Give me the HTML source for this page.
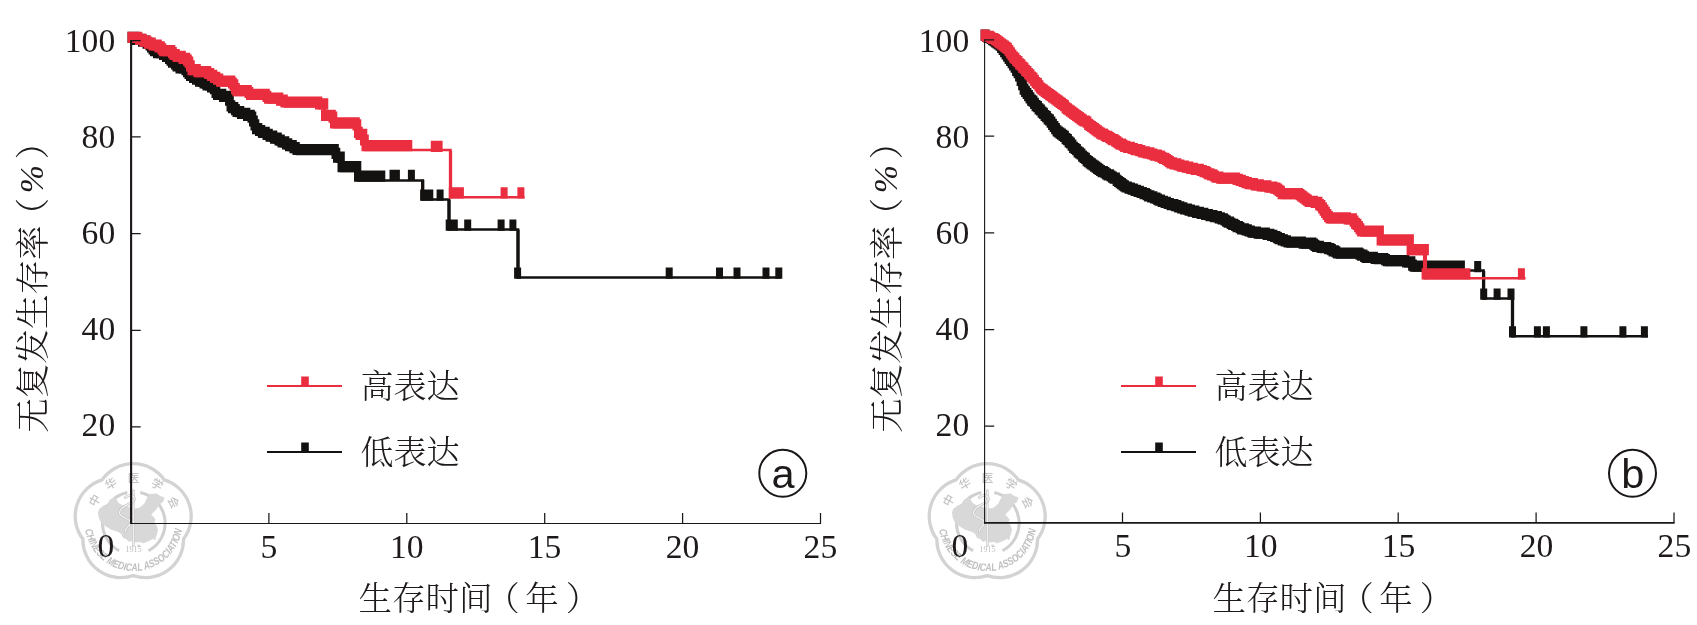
<!DOCTYPE html>
<html lang="zh-CN">
<head>
<meta charset="utf-8">
<title>无复发生存率 Kaplan-Meier 曲线</title>
<style>
html,body{margin:0;padding:0;background:#fff}
body{width:1697px;height:625px;overflow:hidden}
svg{display:block;will-change:transform;opacity:.999}
text{white-space:pre}
</style>
</head>
<body>

<svg width="1697" height="625" viewBox="0 0 1697 625">
<rect width="1697" height="625" fill="#fff"/>
<!-- watermarks -->
<g fill="none" stroke="#d3d3d3">
<path d="M102.09 479.88 A38.00 38.00 0 0 1 164.31 479.88 A38.00 38.00 0 0 1 183.54 539.06 A38.00 38.00 0 0 1 133.20 575.63 A38.00 38.00 0 0 1 82.86 539.06 A38.00 38.00 0 0 1 102.09 479.88Z" stroke-width="3.3" stroke-linejoin="round"/>
<path d="M119.11 550.74 A31.30 31.30 0 0 1 127.29 492.48 M140.31 492.48 A31.30 31.30 0 0 1 148.49 550.74" stroke-width="3.0" stroke="#d0d0d0"/>
</g>
<polygon points="98.6,512.5 99.8,509.3 103.7,506.1 108.2,504.2 110.7,499.7 115.2,498.4 117.8,502.9 121.6,505.5 126.7,506.8 134.4,509.3 140.2,508.0 144.6,504.2 147.2,499.1 149.8,494.6 156.2,494.0 160.0,496.5 163.8,497.8 162.6,501.6 158.7,504.2 156.2,508.7 152.3,512.5 150.4,515.1 152.3,516.4 154.9,519.6 153.6,522.8 156.2,526.0 157.4,529.8 156.2,534.9 152.3,538.8 147.2,541.3 143.4,542.6 139.5,541.3 135.7,542.0 133.1,540.0 129.3,541.3 126.7,538.8 123.5,537.5 121.6,533.6 117.8,531.1 111.4,529.2 106.2,526.0 101.1,521.5 99.2,517.0" fill="#d8d8d8" stroke="#d8d8d8" stroke-width="1.2" stroke-linejoin="round"/>
<ellipse cx="154.7" cy="538.0" rx="1.1" ry="2.0" fill="#d8d8d8" transform="rotate(20 154.7 538.0)"/>
<ellipse cx="138.7" cy="545.7" rx="1.6" ry="1.2" fill="#d8d8d8"/>
<g fill="none" stroke-linecap="round">
<path d="M133.4 490.5 V545.5" stroke="#cdcdcd" stroke-width="2.6"/>
<path d="M133.4 491.0 V545.0" stroke="#f3f3f3" stroke-width="1.0"/>
<path d="M125.4 497.5 c3 -3 8 -3 9 1 c1 5 -15 7 -15 14 c0 6 11 5 11 10 c0 4 -6 5 -5 9" stroke="#c8c8c8" stroke-width="2.8"/>
<path d="M125.4 497.5 c3 -3 8 -3 9 1 c1 5 -15 7 -15 14 c0 6 11 5 11 10 c0 4 -6 5 -5 9" stroke="#f5f5f5" stroke-width="1.1"/>
</g>
<g font-family="'Liberation Sans','Noto Sans CJK SC',sans-serif" font-size="11.6" font-weight="500" fill="#c4c4c4" text-anchor="middle">
<text transform="translate(94.59 500.38) rotate(-61.0)" y="4.2">中</text>
<text transform="translate(110.96 483.57) rotate(-30.5)" y="4.2">华</text>
<text transform="translate(133.60 477.40) rotate(0.0)" y="4.2">医</text>
<text transform="translate(157.23 484.18) rotate(32.0)" y="4.2">学</text>
<text transform="translate(173.69 502.45) rotate(64.0)" y="4.2">会</text>
</g>
<path id="wt133b" d="M85.20 529.67 A49.00 49.00 0 0 0 182.00 529.67" fill="none"/>
<text font-family="'Liberation Sans',sans-serif" font-weight="bold" font-style="italic" font-size="10.8" fill="#c0c0c0"><textPath href="#wt133b" textLength="138.5" lengthAdjust="spacingAndGlyphs">CHINESE MEDICAL ASSOCIATION</textPath></text>
<text x="133.6" y="552.1" font-family="'Liberation Serif',serif" font-size="7.8" fill="#bcbcbc" text-anchor="middle" letter-spacing="0.2">1915</text>
<g fill="none" stroke="#d3d3d3">
<path d="M956.09 479.88 A38.00 38.00 0 0 1 1018.31 479.88 A38.00 38.00 0 0 1 1037.54 539.06 A38.00 38.00 0 0 1 987.20 575.63 A38.00 38.00 0 0 1 936.86 539.06 A38.00 38.00 0 0 1 956.09 479.88Z" stroke-width="3.3" stroke-linejoin="round"/>
<path d="M973.11 550.74 A31.30 31.30 0 0 1 981.29 492.48 M994.31 492.48 A31.30 31.30 0 0 1 1002.49 550.74" stroke-width="3.0" stroke="#d0d0d0"/>
</g>
<polygon points="952.6,512.5 953.8,509.3 957.7,506.1 962.2,504.2 964.7,499.7 969.2,498.4 971.8,502.9 975.6,505.5 980.7,506.8 988.4,509.3 994.2,508.0 998.6,504.2 1001.2,499.1 1003.8,494.6 1010.2,494.0 1014.0,496.5 1017.8,497.8 1016.6,501.6 1012.7,504.2 1010.2,508.7 1006.3,512.5 1004.4,515.1 1006.3,516.4 1008.9,519.6 1007.6,522.8 1010.2,526.0 1011.4,529.8 1010.2,534.9 1006.3,538.8 1001.2,541.3 997.4,542.6 993.5,541.3 989.7,542.0 987.1,540.0 983.3,541.3 980.7,538.8 977.5,537.5 975.6,533.6 971.8,531.1 965.4,529.2 960.2,526.0 955.1,521.5 953.2,517.0" fill="#d8d8d8" stroke="#d8d8d8" stroke-width="1.2" stroke-linejoin="round"/>
<ellipse cx="1008.7" cy="538.0" rx="1.1" ry="2.0" fill="#d8d8d8" transform="rotate(20 1008.7 538.0)"/>
<ellipse cx="992.7" cy="545.7" rx="1.6" ry="1.2" fill="#d8d8d8"/>
<g fill="none" stroke-linecap="round">
<path d="M987.4 490.5 V545.5" stroke="#cdcdcd" stroke-width="2.6"/>
<path d="M987.4 491.0 V545.0" stroke="#f3f3f3" stroke-width="1.0"/>
<path d="M979.4 497.5 c3 -3 8 -3 9 1 c1 5 -15 7 -15 14 c0 6 11 5 11 10 c0 4 -6 5 -5 9" stroke="#c8c8c8" stroke-width="2.8"/>
<path d="M979.4 497.5 c3 -3 8 -3 9 1 c1 5 -15 7 -15 14 c0 6 11 5 11 10 c0 4 -6 5 -5 9" stroke="#f5f5f5" stroke-width="1.1"/>
</g>
<g font-family="'Liberation Sans','Noto Sans CJK SC',sans-serif" font-size="11.6" font-weight="500" fill="#c4c4c4" text-anchor="middle">
<text transform="translate(948.59 500.38) rotate(-61.0)" y="4.2">中</text>
<text transform="translate(964.96 483.57) rotate(-30.5)" y="4.2">华</text>
<text transform="translate(987.60 477.40) rotate(0.0)" y="4.2">医</text>
<text transform="translate(1011.23 484.18) rotate(32.0)" y="4.2">学</text>
<text transform="translate(1027.69 502.45) rotate(64.0)" y="4.2">会</text>
</g>
<path id="wt987b" d="M939.20 529.67 A49.00 49.00 0 0 0 1036.00 529.67" fill="none"/>
<text font-family="'Liberation Sans',sans-serif" font-weight="bold" font-style="italic" font-size="10.8" fill="#c0c0c0"><textPath href="#wt987b" textLength="138.5" lengthAdjust="spacingAndGlyphs">CHINESE MEDICAL ASSOCIATION</textPath></text>
<text x="987.6" y="552.1" font-family="'Liberation Serif',serif" font-size="7.8" fill="#bcbcbc" text-anchor="middle" letter-spacing="0.2">1915</text>
<!-- panel a -->
<path d="M422.7 179.7 V200.6 M449.0 199.6 V230.5 M518.0 229.5 V278.6" fill="none" stroke="#141210" stroke-width="3.3"/>
<path d="M131.0 41.8 H136.0 V43.7 H141.5 V45.6 H145.5 V47.5 H149.5 V49.4 H151.5 V51.3 H152.5 V53.2 H154.0 V55.1 H157.0 V57.0 H163.0 V58.9 H166.0 V60.8 H168.0 V62.7 H170.5 V64.6 H172.5 V66.5 H175.0 V68.4 H177.0 V70.3 H180.0 V72.2 H185.0 V74.1 H187.0 V76.0 H188.5 V77.9 H190.5 V79.8 H193.0 V81.7 H196.0 V83.6 H199.0 V85.5 H203.0 V87.4 H206.5 V89.3 H210.5 V91.2 H214.0 V93.1 H215.0 V95.0 H216.0 V96.9 H217.0 V98.8 H223.0 V100.7 H229.0 V102.6 H229.5 V104.5 H230.0 V106.4 H230.5 V108.3 H231.0 V110.2 H232.0 V112.1 H234.5 V114.0 H236.5 V115.9 H240.5 V117.8 H246.0 V119.7 H252.0 V121.6 H253.0 V123.5 H253.5 V125.4 H254.0 V127.3 H254.5 V129.2 H255.5 V131.1 H256.0 V133.0 H258.5 V134.9 H262.5 V136.8 H266.5 V138.7 H270.0 V140.6 H274.0 V142.5 H277.5 V144.4 H281.5 V146.3 H285.5 V148.2 H289.0 V150.1 H293.0 V152.0 H297.0 V153.9 H336.0 V159.6 H336.5 V161.5 H341.0 V167.2 H341.5 V171.0 H357.5 V176.7 H358.0 V180.5 H422.7 V199.6 H449 V229.5 H518 V277.6 H780.5" fill="none" stroke="#141210" stroke-width="2.5" stroke-linejoin="miter"/>
<path d="M127.5 31.8 h8.8 v11.2 h-8.8 zM129.0 31.8 h8.8 v11.2 h-8.8 zM130.5 31.8 h8.8 v11.2 h-8.8 zM132.0 33.7 h8.8 v11.2 h-8.8 zM133.5 33.7 h8.8 v11.2 h-8.8 zM135.0 33.7 h8.8 v11.2 h-8.8 zM136.5 33.7 h8.8 v11.2 h-8.8 zM138.0 35.6 h8.8 v11.2 h-8.8 zM139.5 35.6 h8.8 v11.2 h-8.8 zM141.0 35.6 h8.8 v11.2 h-8.8 zM142.5 37.5 h8.8 v11.2 h-8.8 zM144.0 37.5 h8.8 v11.2 h-8.8 zM145.5 39.4 h8.8 v11.2 h-8.8 zM147.0 41.3 h8.8 v11.2 h-8.8 zM148.5 43.2 h8.8 v11.2 h-8.8 zM150.0 45.1 h8.8 v11.2 h-8.8 zM151.5 45.1 h8.8 v11.2 h-8.8 zM153.0 47.0 h8.8 v11.2 h-8.8 zM154.5 47.0 h8.8 v11.2 h-8.8 zM156.0 47.0 h8.8 v11.2 h-8.8 zM157.5 47.0 h8.8 v11.2 h-8.8 zM159.0 48.9 h8.8 v11.2 h-8.8 zM160.5 48.9 h8.8 v11.2 h-8.8 zM162.0 50.8 h8.8 v11.2 h-8.8 zM163.5 50.8 h8.8 v11.2 h-8.8 zM165.0 52.7 h8.8 v11.2 h-8.8 zM166.5 54.6 h8.8 v11.2 h-8.8 zM168.0 56.5 h8.8 v11.2 h-8.8 zM169.5 56.5 h8.8 v11.2 h-8.8 zM171.0 58.4 h8.8 v11.2 h-8.8 zM172.5 60.3 h8.8 v11.2 h-8.8 zM174.0 60.3 h8.8 v11.2 h-8.8 zM175.5 62.2 h8.8 v11.2 h-8.8 zM177.0 62.2 h8.8 v11.2 h-8.8 zM178.5 62.2 h8.8 v11.2 h-8.8 zM180.0 62.2 h8.8 v11.2 h-8.8 zM181.5 64.1 h8.8 v11.2 h-8.8 zM183.0 66.0 h8.8 v11.2 h-8.8 zM184.5 67.9 h8.8 v11.2 h-8.8 zM186.0 69.8 h8.8 v11.2 h-8.8 zM187.5 69.8 h8.8 v11.2 h-8.8 zM189.0 71.7 h8.8 v11.2 h-8.8 zM190.5 71.7 h8.8 v11.2 h-8.8 zM192.0 73.6 h8.8 v11.2 h-8.8 zM193.5 73.6 h8.8 v11.2 h-8.8 zM195.0 75.5 h8.8 v11.2 h-8.8 zM196.5 75.5 h8.8 v11.2 h-8.8 zM198.0 75.5 h8.8 v11.2 h-8.8 zM199.5 77.4 h8.8 v11.2 h-8.8 zM201.0 77.4 h8.8 v11.2 h-8.8 zM202.5 79.3 h8.8 v11.2 h-8.8 zM204.0 79.3 h8.8 v11.2 h-8.8 zM205.5 79.3 h8.8 v11.2 h-8.8 zM207.0 81.2 h8.8 v11.2 h-8.8 zM208.5 81.2 h8.8 v11.2 h-8.8 zM210.0 83.1 h8.8 v11.2 h-8.8 zM211.5 86.9 h8.8 v11.2 h-8.8 zM213.0 88.8 h8.8 v11.2 h-8.8 zM214.5 88.8 h8.8 v11.2 h-8.8 zM216.0 88.8 h8.8 v11.2 h-8.8 zM217.5 88.8 h8.8 v11.2 h-8.8 zM219.0 90.7 h8.8 v11.2 h-8.8 zM220.5 90.7 h8.8 v11.2 h-8.8 zM222.0 90.7 h8.8 v11.2 h-8.8 zM223.5 90.7 h8.8 v11.2 h-8.8 zM225.0 94.5 h8.8 v11.2 h-8.8 zM226.5 100.2 h8.8 v11.2 h-8.8 zM228.0 102.1 h8.8 v11.2 h-8.8 zM229.5 102.1 h8.8 v11.2 h-8.8 zM231.0 104.0 h8.8 v11.2 h-8.8 zM232.5 105.9 h8.8 v11.2 h-8.8 zM234.0 105.9 h8.8 v11.2 h-8.8 zM235.5 105.9 h8.8 v11.2 h-8.8 zM237.0 107.8 h8.8 v11.2 h-8.8 zM238.5 107.8 h8.8 v11.2 h-8.8 zM240.0 107.8 h8.8 v11.2 h-8.8 zM241.5 107.8 h8.8 v11.2 h-8.8 zM243.0 109.7 h8.8 v11.2 h-8.8 zM244.5 109.7 h8.8 v11.2 h-8.8 zM246.0 109.7 h8.8 v11.2 h-8.8 zM247.5 111.6 h8.8 v11.2 h-8.8 zM249.0 115.4 h8.8 v11.2 h-8.8 zM250.5 119.2 h8.8 v11.2 h-8.8 zM252.0 123.0 h8.8 v11.2 h-8.8 zM253.5 123.0 h8.8 v11.2 h-8.8 zM255.0 124.9 h8.8 v11.2 h-8.8 zM256.5 124.9 h8.8 v11.2 h-8.8 zM258.0 126.8 h8.8 v11.2 h-8.8 zM259.5 126.8 h8.8 v11.2 h-8.8 zM261.0 126.8 h8.8 v11.2 h-8.8 zM262.5 128.7 h8.8 v11.2 h-8.8 zM264.0 128.7 h8.8 v11.2 h-8.8 zM265.5 130.6 h8.8 v11.2 h-8.8 zM267.0 130.6 h8.8 v11.2 h-8.8 zM268.5 130.6 h8.8 v11.2 h-8.8 zM270.0 132.5 h8.8 v11.2 h-8.8 zM271.5 132.5 h8.8 v11.2 h-8.8 zM273.0 132.5 h8.8 v11.2 h-8.8 zM274.5 134.4 h8.8 v11.2 h-8.8 zM276.0 134.4 h8.8 v11.2 h-8.8 zM277.5 136.3 h8.8 v11.2 h-8.8 zM279.0 136.3 h8.8 v11.2 h-8.8 zM280.5 136.3 h8.8 v11.2 h-8.8 zM282.0 138.2 h8.8 v11.2 h-8.8 zM283.5 138.2 h8.8 v11.2 h-8.8 zM285.0 140.1 h8.8 v11.2 h-8.8 zM286.5 140.1 h8.8 v11.2 h-8.8 zM288.0 140.1 h8.8 v11.2 h-8.8 zM289.5 142.0 h8.8 v11.2 h-8.8 zM291.0 142.0 h8.8 v11.2 h-8.8 zM292.5 143.9 h8.8 v11.2 h-8.8 zM294.0 143.9 h8.8 v11.2 h-8.8 zM295.5 143.9 h8.8 v11.2 h-8.8 zM297.0 143.9 h8.8 v11.2 h-8.8 zM298.5 143.9 h8.8 v11.2 h-8.8 zM300.0 143.9 h8.8 v11.2 h-8.8 zM301.5 143.9 h8.8 v11.2 h-8.8 zM303.0 143.9 h8.8 v11.2 h-8.8 zM304.5 143.9 h8.8 v11.2 h-8.8 zM306.0 143.9 h8.8 v11.2 h-8.8 zM307.5 143.9 h8.8 v11.2 h-8.8 zM309.0 143.9 h8.8 v11.2 h-8.8 zM310.5 143.9 h8.8 v11.2 h-8.8 zM312.0 143.9 h8.8 v11.2 h-8.8 zM313.5 143.9 h8.8 v11.2 h-8.8 zM315.0 143.9 h8.8 v11.2 h-8.8 zM316.5 143.9 h8.8 v11.2 h-8.8 zM318.0 143.9 h8.8 v11.2 h-8.8 zM319.5 143.9 h8.8 v11.2 h-8.8 zM321.0 143.9 h8.8 v11.2 h-8.8 zM322.5 143.9 h8.8 v11.2 h-8.8 zM324.0 143.9 h8.8 v11.2 h-8.8 zM325.5 143.9 h8.8 v11.2 h-8.8 zM327.0 143.9 h8.8 v11.2 h-8.8 zM328.5 143.9 h8.8 v11.2 h-8.8 zM330.0 143.9 h8.8 v11.2 h-8.8 zM331.5 147.7 h8.8 v11.2 h-8.8 zM333.0 151.5 h8.8 v11.2 h-8.8 zM334.5 151.5 h8.8 v11.2 h-8.8 zM336.0 151.5 h8.8 v11.2 h-8.8 zM337.5 161.0 h8.8 v11.2 h-8.8 zM339.0 161.0 h8.8 v11.2 h-8.8 zM340.5 161.0 h8.8 v11.2 h-8.8 zM342.0 161.0 h8.8 v11.2 h-8.8 zM343.5 161.0 h8.8 v11.2 h-8.8 zM345.0 161.0 h8.8 v11.2 h-8.8 zM346.5 161.0 h8.8 v11.2 h-8.8 zM348.0 161.0 h8.8 v11.2 h-8.8 zM349.5 161.0 h8.8 v11.2 h-8.8 zM351.0 161.0 h8.8 v11.2 h-8.8 zM352.5 161.0 h8.8 v11.2 h-8.8 zM354.0 170.5 h8.8 v11.2 h-8.8 zM355.5 170.5 h8.8 v11.2 h-8.8 zM357.0 170.5 h8.8 v11.2 h-8.8 zM358.5 170.5 h8.8 v11.2 h-8.8 zM360.0 170.5 h8.8 v11.2 h-8.8 zM361.5 170.5 h8.8 v11.2 h-8.8 zM363.0 170.5 h8.8 v11.2 h-8.8 zM364.5 170.5 h8.8 v11.2 h-8.8 zM366.0 170.5 h8.8 v11.2 h-8.8 zM367.5 170.5 h8.8 v11.2 h-8.8 zM369.0 170.5 h8.8 v11.2 h-8.8 zM370.5 170.5 h8.8 v11.2 h-8.8 zM372.0 170.5 h8.8 v11.2 h-8.8 zM373.5 170.5 h8.8 v11.2 h-8.8 zM375.0 170.5 h8.8 v11.2 h-8.8 zM376.5 170.5 h8.8 v11.2 h-8.8 zM389.5 169.7 h7.0 v11.2 h-7.0 zM392.9 169.7 h7.0 v11.2 h-7.0 zM407.9 169.7 h7.0 v11.2 h-7.0 zM420.1 189.6 h7.0 v11.2 h-7.0 zM426.3 189.6 h7.0 v11.2 h-7.0 zM436.6 189.6 h7.0 v11.2 h-7.0 zM445.7 219.5 h7.0 v11.2 h-7.0 zM450.8 219.5 h7.0 v11.2 h-7.0 zM464.2 219.5 h7.0 v11.2 h-7.0 zM497.6 219.5 h7.0 v11.2 h-7.0 zM509.4 219.5 h7.0 v11.2 h-7.0 zM514.1 267.6 h7.0 v11.2 h-7.0 zM665.7 267.6 h7.0 v11.2 h-7.0 zM716.0 267.6 h7.0 v11.2 h-7.0 zM733.5 267.6 h7.0 v11.2 h-7.0 zM762.5 267.6 h7.0 v11.2 h-7.0 zM775.3 267.6 h7.0 v11.2 h-7.0 z" fill="#141210"/>
<path d="M450.5 150.8 V198.3" fill="none" stroke="#ea2d3f" stroke-width="3.3"/>
<path d="M131.0 41.8 H138.5 V43.7 H143.5 V45.6 H148.0 V47.5 H152.5 V49.4 H159.0 V51.3 H161.5 V53.2 H163.5 V55.1 H171.5 V57.0 H174.0 V58.9 H177.0 V60.8 H181.5 V62.7 H186.5 V64.6 H189.0 V66.5 H189.5 V68.4 H190.0 V70.3 H191.0 V72.2 H191.5 V74.1 H196.5 V76.0 H207.5 V77.9 H210.5 V79.8 H214.0 V81.7 H217.0 V83.6 H220.5 V85.5 H232.5 V87.4 H233.5 V89.3 H234.0 V91.2 H235.0 V93.1 H236.0 V95.0 H248.0 V96.9 H250.0 V98.8 H266.5 V100.7 H268.5 V102.6 H280.0 V104.5 H285.0 V106.4 H319.5 V108.3 H324.5 V112.1 H325.0 V117.8 H325.5 V119.7 H332.0 V121.6 H333.5 V123.5 H334.0 V127.3 H356.0 V129.2 H357.5 V131.1 H358.0 V136.8 H360.0 V138.7 H364.5 V146.3 H365.0 V150.1 H450.5 V197.3 H524.5" fill="none" stroke="#ea2d3f" stroke-width="2.5"/>
<path d="M127.5 31.8 h8.8 v11.2 h-8.8 zM129.0 31.8 h8.8 v11.2 h-8.8 zM130.5 31.8 h8.8 v11.2 h-8.8 zM132.0 31.8 h8.8 v11.2 h-8.8 zM133.5 31.8 h8.8 v11.2 h-8.8 zM135.0 33.7 h8.8 v11.2 h-8.8 zM136.5 33.7 h8.8 v11.2 h-8.8 zM138.0 33.7 h8.8 v11.2 h-8.8 zM139.5 35.6 h8.8 v11.2 h-8.8 zM141.0 35.6 h8.8 v11.2 h-8.8 zM142.5 35.6 h8.8 v11.2 h-8.8 zM144.0 37.5 h8.8 v11.2 h-8.8 zM145.5 37.5 h8.8 v11.2 h-8.8 zM147.0 37.5 h8.8 v11.2 h-8.8 zM148.5 39.4 h8.8 v11.2 h-8.8 zM150.0 39.4 h8.8 v11.2 h-8.8 zM151.5 39.4 h8.8 v11.2 h-8.8 zM153.0 39.4 h8.8 v11.2 h-8.8 zM154.5 41.3 h8.8 v11.2 h-8.8 zM156.0 41.3 h8.8 v11.2 h-8.8 zM157.5 43.2 h8.8 v11.2 h-8.8 zM159.0 45.1 h8.8 v11.2 h-8.8 zM160.5 45.1 h8.8 v11.2 h-8.8 zM162.0 45.1 h8.8 v11.2 h-8.8 zM163.5 45.1 h8.8 v11.2 h-8.8 zM165.0 45.1 h8.8 v11.2 h-8.8 zM166.5 45.1 h8.8 v11.2 h-8.8 zM168.0 47.0 h8.8 v11.2 h-8.8 zM169.5 48.9 h8.8 v11.2 h-8.8 zM171.0 48.9 h8.8 v11.2 h-8.8 zM172.5 50.8 h8.8 v11.2 h-8.8 zM174.0 50.8 h8.8 v11.2 h-8.8 zM175.5 50.8 h8.8 v11.2 h-8.8 zM177.0 50.8 h8.8 v11.2 h-8.8 zM178.5 52.7 h8.8 v11.2 h-8.8 zM180.0 52.7 h8.8 v11.2 h-8.8 zM181.5 52.7 h8.8 v11.2 h-8.8 zM183.0 54.6 h8.8 v11.2 h-8.8 zM184.5 56.5 h8.8 v11.2 h-8.8 zM186.0 60.3 h8.8 v11.2 h-8.8 zM187.5 64.1 h8.8 v11.2 h-8.8 zM189.0 64.1 h8.8 v11.2 h-8.8 zM190.5 64.1 h8.8 v11.2 h-8.8 zM192.0 64.1 h8.8 v11.2 h-8.8 zM193.5 66.0 h8.8 v11.2 h-8.8 zM195.0 66.0 h8.8 v11.2 h-8.8 zM196.5 66.0 h8.8 v11.2 h-8.8 zM198.0 66.0 h8.8 v11.2 h-8.8 zM199.5 66.0 h8.8 v11.2 h-8.8 zM201.0 66.0 h8.8 v11.2 h-8.8 zM202.5 66.0 h8.8 v11.2 h-8.8 zM204.0 67.9 h8.8 v11.2 h-8.8 zM205.5 67.9 h8.8 v11.2 h-8.8 zM207.0 69.8 h8.8 v11.2 h-8.8 zM208.5 69.8 h8.8 v11.2 h-8.8 zM210.0 71.7 h8.8 v11.2 h-8.8 zM211.5 71.7 h8.8 v11.2 h-8.8 zM213.0 73.6 h8.8 v11.2 h-8.8 zM214.5 73.6 h8.8 v11.2 h-8.8 zM216.0 75.5 h8.8 v11.2 h-8.8 zM217.5 75.5 h8.8 v11.2 h-8.8 zM219.0 75.5 h8.8 v11.2 h-8.8 zM220.5 75.5 h8.8 v11.2 h-8.8 zM222.0 75.5 h8.8 v11.2 h-8.8 zM223.5 75.5 h8.8 v11.2 h-8.8 zM225.0 75.5 h8.8 v11.2 h-8.8 zM226.5 75.5 h8.8 v11.2 h-8.8 zM228.0 77.4 h8.8 v11.2 h-8.8 zM229.5 79.3 h8.8 v11.2 h-8.8 zM231.0 83.1 h8.8 v11.2 h-8.8 zM232.5 85.0 h8.8 v11.2 h-8.8 zM234.0 85.0 h8.8 v11.2 h-8.8 zM235.5 85.0 h8.8 v11.2 h-8.8 zM237.0 85.0 h8.8 v11.2 h-8.8 zM238.5 85.0 h8.8 v11.2 h-8.8 zM240.0 85.0 h8.8 v11.2 h-8.8 zM241.5 85.0 h8.8 v11.2 h-8.8 zM243.0 85.0 h8.8 v11.2 h-8.8 zM244.5 86.9 h8.8 v11.2 h-8.8 zM246.0 88.8 h8.8 v11.2 h-8.8 zM247.5 88.8 h8.8 v11.2 h-8.8 zM249.0 88.8 h8.8 v11.2 h-8.8 zM250.5 88.8 h8.8 v11.2 h-8.8 zM252.0 88.8 h8.8 v11.2 h-8.8 zM253.5 88.8 h8.8 v11.2 h-8.8 zM255.0 88.8 h8.8 v11.2 h-8.8 zM256.5 88.8 h8.8 v11.2 h-8.8 zM258.0 88.8 h8.8 v11.2 h-8.8 zM259.5 88.8 h8.8 v11.2 h-8.8 zM261.0 88.8 h8.8 v11.2 h-8.8 zM262.5 90.7 h8.8 v11.2 h-8.8 zM264.0 92.6 h8.8 v11.2 h-8.8 zM265.5 92.6 h8.8 v11.2 h-8.8 zM267.0 92.6 h8.8 v11.2 h-8.8 zM268.5 92.6 h8.8 v11.2 h-8.8 zM270.0 92.6 h8.8 v11.2 h-8.8 zM271.5 92.6 h8.8 v11.2 h-8.8 zM273.0 92.6 h8.8 v11.2 h-8.8 zM274.5 92.6 h8.8 v11.2 h-8.8 zM276.0 94.5 h8.8 v11.2 h-8.8 zM277.5 94.5 h8.8 v11.2 h-8.8 zM279.0 94.5 h8.8 v11.2 h-8.8 zM280.5 96.4 h8.8 v11.2 h-8.8 zM282.0 96.4 h8.8 v11.2 h-8.8 zM283.5 96.4 h8.8 v11.2 h-8.8 zM285.0 96.4 h8.8 v11.2 h-8.8 zM286.5 96.4 h8.8 v11.2 h-8.8 zM288.0 96.4 h8.8 v11.2 h-8.8 zM289.5 96.4 h8.8 v11.2 h-8.8 zM291.0 96.4 h8.8 v11.2 h-8.8 zM292.5 96.4 h8.8 v11.2 h-8.8 zM294.0 96.4 h8.8 v11.2 h-8.8 zM295.5 96.4 h8.8 v11.2 h-8.8 zM297.0 96.4 h8.8 v11.2 h-8.8 zM298.5 96.4 h8.8 v11.2 h-8.8 zM300.0 96.4 h8.8 v11.2 h-8.8 zM301.5 96.4 h8.8 v11.2 h-8.8 zM303.0 96.4 h8.8 v11.2 h-8.8 zM304.5 96.4 h8.8 v11.2 h-8.8 zM306.0 96.4 h8.8 v11.2 h-8.8 zM307.5 96.4 h8.8 v11.2 h-8.8 zM309.0 96.4 h8.8 v11.2 h-8.8 zM310.5 96.4 h8.8 v11.2 h-8.8 zM312.0 96.4 h8.8 v11.2 h-8.8 zM313.5 96.4 h8.8 v11.2 h-8.8 zM315.0 98.3 h8.8 v11.2 h-8.8 zM316.5 98.3 h8.8 v11.2 h-8.8 zM318.0 98.3 h8.8 v11.2 h-8.8 zM319.5 98.3 h8.8 v11.2 h-8.8 zM321.0 109.7 h8.8 v11.2 h-8.8 zM322.5 109.7 h8.8 v11.2 h-8.8 zM324.0 109.7 h8.8 v11.2 h-8.8 zM325.5 109.7 h8.8 v11.2 h-8.8 zM327.0 109.7 h8.8 v11.2 h-8.8 zM328.5 111.6 h8.8 v11.2 h-8.8 zM330.0 117.3 h8.8 v11.2 h-8.8 zM331.5 117.3 h8.8 v11.2 h-8.8 zM333.0 117.3 h8.8 v11.2 h-8.8 zM334.5 117.3 h8.8 v11.2 h-8.8 zM336.0 117.3 h8.8 v11.2 h-8.8 zM337.5 117.3 h8.8 v11.2 h-8.8 zM339.0 117.3 h8.8 v11.2 h-8.8 zM340.5 117.3 h8.8 v11.2 h-8.8 zM342.0 117.3 h8.8 v11.2 h-8.8 zM343.5 117.3 h8.8 v11.2 h-8.8 zM345.0 117.3 h8.8 v11.2 h-8.8 zM346.5 117.3 h8.8 v11.2 h-8.8 zM348.0 117.3 h8.8 v11.2 h-8.8 zM349.5 117.3 h8.8 v11.2 h-8.8 zM351.0 117.3 h8.8 v11.2 h-8.8 zM352.5 119.2 h8.8 v11.2 h-8.8 zM354.0 126.8 h8.8 v11.2 h-8.8 zM355.5 128.7 h8.8 v11.2 h-8.8 zM357.0 128.7 h8.8 v11.2 h-8.8 zM358.5 128.7 h8.8 v11.2 h-8.8 zM360.0 134.4 h8.8 v11.2 h-8.8 zM361.5 140.1 h8.8 v11.2 h-8.8 zM363.0 140.1 h8.8 v11.2 h-8.8 zM364.5 140.1 h8.8 v11.2 h-8.8 zM366.0 140.1 h8.8 v11.2 h-8.8 zM367.5 140.1 h8.8 v11.2 h-8.8 zM369.0 140.1 h8.8 v11.2 h-8.8 zM370.5 140.1 h8.8 v11.2 h-8.8 zM372.0 140.1 h8.8 v11.2 h-8.8 zM373.5 140.1 h8.8 v11.2 h-8.8 zM375.0 140.1 h8.8 v11.2 h-8.8 zM376.5 140.1 h8.8 v11.2 h-8.8 zM378.0 140.1 h8.8 v11.2 h-8.8 zM379.5 140.1 h8.8 v11.2 h-8.8 zM381.0 140.1 h8.8 v11.2 h-8.8 zM382.5 140.1 h8.8 v11.2 h-8.8 zM384.0 140.1 h8.8 v11.2 h-8.8 zM385.5 140.1 h8.8 v11.2 h-8.8 zM387.0 140.1 h8.8 v11.2 h-8.8 zM388.5 140.1 h8.8 v11.2 h-8.8 zM390.0 140.1 h8.8 v11.2 h-8.8 zM391.5 140.1 h8.8 v11.2 h-8.8 zM393.0 140.1 h8.8 v11.2 h-8.8 zM394.5 140.1 h8.8 v11.2 h-8.8 zM396.0 140.1 h8.8 v11.2 h-8.8 zM397.5 140.1 h8.8 v11.2 h-8.8 zM399.0 140.1 h8.8 v11.2 h-8.8 zM400.5 140.1 h8.8 v11.2 h-8.8 zM402.0 140.1 h8.8 v11.2 h-8.8 zM403.5 140.1 h8.8 v11.2 h-8.8 zM430.8 140.8 h7.0 v11.2 h-7.0 zM435.6 140.8 h7.0 v11.2 h-7.0 zM448.8 187.3 h7.0 v11.2 h-7.0 zM452.9 187.3 h7.0 v11.2 h-7.0 zM456.9 187.3 h7.0 v11.2 h-7.0 zM500.6 187.3 h7.0 v11.2 h-7.0 zM517.4 187.3 h7.0 v11.2 h-7.0 z" fill="#ea2d3f"/>
<g stroke="#1a1716" fill="none">
<path d="M131.1 40.0 V524.0" stroke-width="2.1"/>
<path d="M130.0 523.5 H821.0" stroke-width="1.1"/>
<path d="M131.1 40.6 h9.6 M131.1 136.9 h9.6 M131.1 233.6 h9.6 M131.1 330.4 h9.6 M131.1 426.8 h9.6 M268.9 523.5 v-10.4 M406.8 523.5 v-10.4 M544.7 523.5 v-10.4 M682.6 523.5 v-10.4 M820.5 523.5 v-10.4" stroke-width="1.25"/>
</g>
<g font-family="'Liberation Serif',serif" font-size="33.6" fill="#1d1a19">
<text x="115.2" y="52.4" text-anchor="end">100</text>
<text x="115.2" y="148.3" text-anchor="end">80</text>
<text x="115.2" y="244.0" text-anchor="end">60</text>
<text x="115.2" y="339.9" text-anchor="end">40</text>
<text x="115.2" y="436.0" text-anchor="end">20</text>
<text x="106.0" y="557.4" text-anchor="middle">0</text>
<text x="268.9" y="557.6" text-anchor="middle">5</text>
<text x="406.8" y="557.6" text-anchor="middle">10</text>
<text x="544.6" y="557.6" text-anchor="middle">15</text>
<text x="682.5" y="557.6" text-anchor="middle">20</text>
<text x="820.4" y="557.6" text-anchor="middle">25</text>
</g>
<text x="478.8" y="610.3" font-family="'Liberation Serif','Noto Serif CJK SC',serif" font-weight="300" font-size="33.5" fill="#1d1a19" text-anchor="middle">生存时间<tspan dx="-6.1">（</tspan><tspan dx="5.4">年</tspan><tspan dx="6.9">）</tspan></text>
<text transform="translate(44.8 0) rotate(-90)" font-family="'Liberation Serif','Noto Serif CJK SC',serif" font-weight="300" font-size="34.6" fill="#1d1a19"><tspan x="-432.8">无复发生存率</tspan><tspan x="-232.4">（</tspan><tspan x="-193.2" dy="-1.6" font-size="34" font-style="italic">%</tspan><tspan x="-159.4" dy="1.6">）</tspan></text>
<path d="M267.0 386.0 H342.0" stroke="#ea2d3f" stroke-width="2" fill="none"/>
<rect x="301.2" y="376.5" width="7.6" height="9.5" fill="#ea2d3f"/>
<text x="360.5" y="398.0" font-family="'Liberation Serif','Noto Serif CJK SC',serif" font-weight="300" font-size="33" fill="#1d1a19">高表达</text>
<path d="M267.0 452.0 H342.0" stroke="#141210" stroke-width="2" fill="none"/>
<rect x="301.2" y="442.5" width="7.6" height="9.5" fill="#141210"/>
<text x="360.5" y="464.0" font-family="'Liberation Serif','Noto Serif CJK SC',serif" font-weight="300" font-size="33" fill="#1d1a19">低表达</text>
<circle cx="782.8" cy="473.3" r="23.5" fill="none" stroke="#1a1716" stroke-width="2.0"/><text x="783.1" y="487.9" font-family="'Liberation Sans',sans-serif" font-size="41.5" fill="#1d1a19" text-anchor="middle">a</text>
<!-- panel b -->
<path d="M1483.6 271.0 V299.6 M1512.5 298.6 V337.3" fill="none" stroke="#141210" stroke-width="3.3"/>
<path d="M985.0 39.6 H985.5 V40.7 H988.0 V41.8 H990.5 V42.9 H992.5 V44.0 H994.0 V45.1 H995.5 V46.2 H996.5 V47.3 H998.0 V48.4 H999.5 V49.5 H1000.5 V50.6 H1001.5 V51.7 H1002.0 V52.8 H1003.0 V53.9 H1003.5 V55.0 H1004.5 V56.1 H1005.0 V57.2 H1006.0 V58.3 H1006.5 V59.4 H1007.5 V60.5 H1008.0 V61.6 H1009.0 V62.7 H1009.5 V63.8 H1010.5 V64.9 H1011.0 V66.0 H1012.0 V67.1 H1012.5 V68.2 H1013.5 V69.3 H1014.0 V70.4 H1015.0 V71.5 H1015.5 V72.6 H1016.0 V73.7 H1016.5 V74.8 H1017.0 V75.9 H1018.0 V77.0 H1018.5 V78.1 H1019.0 V79.2 H1019.5 V80.3 H1020.0 V81.4 H1020.5 V82.5 H1021.0 V84.7 H1021.5 V85.8 H1022.0 V88.0 H1022.5 V89.1 H1023.0 V90.2 H1023.5 V92.4 H1024.0 V93.5 H1025.0 V94.6 H1025.5 V95.7 H1026.5 V96.8 H1027.0 V97.9 H1028.0 V99.0 H1028.5 V100.1 H1029.0 V101.2 H1030.0 V102.3 H1030.5 V103.4 H1031.5 V104.5 H1032.5 V105.6 H1033.5 V106.7 H1034.5 V107.8 H1035.5 V108.9 H1036.0 V110.0 H1037.0 V111.1 H1038.0 V112.2 H1039.0 V113.3 H1040.0 V114.4 H1041.0 V115.5 H1042.0 V116.6 H1043.0 V117.7 H1044.0 V118.8 H1045.0 V119.9 H1046.0 V121.0 H1047.0 V122.1 H1048.0 V123.2 H1049.0 V124.3 H1050.0 V125.4 H1050.5 V126.5 H1051.5 V127.6 H1052.0 V128.7 H1053.0 V129.8 H1053.5 V130.9 H1054.5 V132.0 H1055.0 V133.1 H1056.0 V134.2 H1056.5 V135.3 H1058.0 V136.4 H1059.5 V137.5 H1060.5 V138.6 H1062.0 V139.7 H1063.5 V140.8 H1065.0 V141.9 H1066.0 V143.0 H1067.0 V144.1 H1068.0 V145.2 H1069.0 V146.3 H1070.0 V147.4 H1071.0 V148.5 H1072.0 V149.6 H1073.0 V150.7 H1073.5 V151.8 H1075.0 V152.9 H1076.0 V154.0 H1077.0 V155.1 H1078.0 V156.2 H1079.0 V157.3 H1080.5 V158.4 H1081.5 V159.5 H1082.5 V160.6 H1083.5 V161.7 H1084.5 V162.8 H1086.0 V163.9 H1087.0 V165.0 H1088.5 V166.1 H1090.0 V167.2 H1091.0 V168.3 H1092.5 V169.4 H1094.0 V170.5 H1095.5 V171.6 H1096.5 V172.7 H1098.0 V173.8 H1100.0 V174.9 H1102.0 V176.0 H1104.0 V177.1 H1106.0 V178.2 H1108.0 V179.3 H1110.0 V180.4 H1112.0 V181.5 H1114.0 V182.6 H1116.0 V183.7 H1117.0 V184.8 H1118.5 V185.9 H1120.0 V187.0 H1121.5 V188.1 H1123.0 V189.2 H1124.0 V190.3 H1125.5 V191.4 H1128.0 V192.5 H1131.0 V193.6 H1134.0 V194.7 H1137.0 V195.8 H1140.5 V196.9 H1143.5 V198.0 H1146.0 V199.1 H1148.5 V200.2 H1151.0 V201.3 H1153.5 V202.4 H1156.5 V203.5 H1159.0 V204.6 H1161.5 V205.7 H1164.5 V206.8 H1168.0 V207.9 H1171.0 V209.0 H1174.5 V210.1 H1178.0 V211.2 H1181.0 V212.3 H1184.5 V213.4 H1188.5 V214.5 H1192.0 V215.6 H1195.5 V216.7 H1200.5 V217.8 H1205.5 V218.9 H1210.0 V220.0 H1214.0 V221.1 H1218.0 V222.2 H1221.5 V223.3 H1224.0 V224.4 H1226.0 V225.5 H1228.0 V226.6 H1230.5 V227.7 H1232.5 V228.8 H1235.0 V229.9 H1237.0 V231.0 H1239.0 V232.1 H1241.5 V233.2 H1245.0 V234.3 H1248.0 V235.4 H1251.5 V236.5 H1257.0 V237.6 H1266.0 V238.7 H1271.0 V239.8 H1273.5 V240.9 H1276.5 V242.0 H1279.0 V243.1 H1282.0 V244.2 H1284.5 V245.3 H1287.5 V246.4 H1302.5 V247.5 H1312.5 V248.6 H1314.5 V249.7 H1316.5 V250.8 H1321.0 V251.9 H1327.5 V253.0 H1330.5 V254.1 H1333.0 V255.2 H1335.0 V256.3 H1337.0 V257.4 H1360.0 V258.5 H1361.5 V259.6 H1363.5 V260.7 H1365.0 V261.8 H1375.0 V262.9 H1385.0 V264.0 H1386.5 V265.1 H1405.5 V266.2 H1411.5 V267.3 H1412.0 V268.4 H1412.5 V269.5 H1413.0 V270.6 H1483.6 V298.6 H1512.5 V336.3 H1648" fill="none" stroke="#141210" stroke-width="2.5"/>
<path d="M980.6 29.6 h8.8 v11.2 h-8.8 zM982.1 30.7 h8.8 v11.2 h-8.8 zM983.6 31.8 h8.8 v11.2 h-8.8 zM985.1 31.8 h8.8 v11.2 h-8.8 zM986.6 32.9 h8.8 v11.2 h-8.8 zM988.1 34.0 h8.8 v11.2 h-8.8 zM989.6 35.1 h8.8 v11.2 h-8.8 zM991.1 36.2 h8.8 v11.2 h-8.8 zM992.6 37.3 h8.8 v11.2 h-8.8 zM994.1 38.4 h8.8 v11.2 h-8.8 zM995.6 39.5 h8.8 v11.2 h-8.8 zM997.1 41.7 h8.8 v11.2 h-8.8 zM998.6 43.9 h8.8 v11.2 h-8.8 zM1000.1 46.1 h8.8 v11.2 h-8.8 zM1001.6 48.3 h8.8 v11.2 h-8.8 zM1003.1 50.5 h8.8 v11.2 h-8.8 zM1004.6 52.7 h8.8 v11.2 h-8.8 zM1006.1 54.9 h8.8 v11.2 h-8.8 zM1007.6 57.1 h8.8 v11.2 h-8.8 zM1009.1 59.3 h8.8 v11.2 h-8.8 zM1010.6 61.5 h8.8 v11.2 h-8.8 zM1012.1 64.8 h8.8 v11.2 h-8.8 zM1013.6 67.0 h8.8 v11.2 h-8.8 zM1015.1 70.3 h8.8 v11.2 h-8.8 zM1016.6 74.7 h8.8 v11.2 h-8.8 zM1018.1 79.1 h8.8 v11.2 h-8.8 zM1019.6 83.5 h8.8 v11.2 h-8.8 zM1021.1 85.7 h8.8 v11.2 h-8.8 zM1022.6 87.9 h8.8 v11.2 h-8.8 zM1024.1 90.1 h8.8 v11.2 h-8.8 zM1025.6 92.3 h8.8 v11.2 h-8.8 zM1027.1 94.5 h8.8 v11.2 h-8.8 zM1028.6 95.6 h8.8 v11.2 h-8.8 zM1030.1 97.8 h8.8 v11.2 h-8.8 zM1031.6 100.0 h8.8 v11.2 h-8.8 zM1033.1 101.1 h8.8 v11.2 h-8.8 zM1034.6 103.3 h8.8 v11.2 h-8.8 zM1036.1 104.4 h8.8 v11.2 h-8.8 zM1037.6 106.6 h8.8 v11.2 h-8.8 zM1039.1 107.7 h8.8 v11.2 h-8.8 zM1040.6 109.9 h8.8 v11.2 h-8.8 zM1042.1 111.0 h8.8 v11.2 h-8.8 zM1043.6 113.2 h8.8 v11.2 h-8.8 zM1045.1 114.3 h8.8 v11.2 h-8.8 zM1046.6 116.5 h8.8 v11.2 h-8.8 zM1048.1 118.7 h8.8 v11.2 h-8.8 zM1049.6 120.9 h8.8 v11.2 h-8.8 zM1051.1 123.1 h8.8 v11.2 h-8.8 zM1052.6 125.3 h8.8 v11.2 h-8.8 zM1054.1 126.4 h8.8 v11.2 h-8.8 zM1055.6 127.5 h8.8 v11.2 h-8.8 zM1057.1 128.6 h8.8 v11.2 h-8.8 zM1058.6 129.7 h8.8 v11.2 h-8.8 zM1060.1 130.8 h8.8 v11.2 h-8.8 zM1061.6 133.0 h8.8 v11.2 h-8.8 zM1063.1 134.1 h8.8 v11.2 h-8.8 zM1064.6 136.3 h8.8 v11.2 h-8.8 zM1066.1 137.4 h8.8 v11.2 h-8.8 zM1067.6 139.6 h8.8 v11.2 h-8.8 zM1069.1 141.8 h8.8 v11.2 h-8.8 zM1070.6 142.9 h8.8 v11.2 h-8.8 zM1072.1 144.0 h8.8 v11.2 h-8.8 zM1073.6 146.2 h8.8 v11.2 h-8.8 zM1075.1 147.3 h8.8 v11.2 h-8.8 zM1076.6 148.4 h8.8 v11.2 h-8.8 zM1078.1 150.6 h8.8 v11.2 h-8.8 zM1079.6 151.7 h8.8 v11.2 h-8.8 zM1081.1 152.8 h8.8 v11.2 h-8.8 zM1082.6 155.0 h8.8 v11.2 h-8.8 zM1084.1 156.1 h8.8 v11.2 h-8.8 zM1085.6 157.2 h8.8 v11.2 h-8.8 zM1087.1 158.3 h8.8 v11.2 h-8.8 zM1088.6 159.4 h8.8 v11.2 h-8.8 zM1090.1 160.5 h8.8 v11.2 h-8.8 zM1091.6 161.6 h8.8 v11.2 h-8.8 zM1093.1 162.7 h8.8 v11.2 h-8.8 zM1094.6 163.8 h8.8 v11.2 h-8.8 zM1096.1 164.9 h8.8 v11.2 h-8.8 zM1097.6 166.0 h8.8 v11.2 h-8.8 zM1099.1 166.0 h8.8 v11.2 h-8.8 zM1100.6 167.1 h8.8 v11.2 h-8.8 zM1102.1 168.2 h8.8 v11.2 h-8.8 zM1103.6 169.3 h8.8 v11.2 h-8.8 zM1105.1 169.3 h8.8 v11.2 h-8.8 zM1106.6 170.4 h8.8 v11.2 h-8.8 zM1108.1 171.5 h8.8 v11.2 h-8.8 zM1109.6 172.6 h8.8 v11.2 h-8.8 zM1111.1 172.6 h8.8 v11.2 h-8.8 zM1112.6 174.8 h8.8 v11.2 h-8.8 zM1114.1 175.9 h8.8 v11.2 h-8.8 zM1115.6 177.0 h8.8 v11.2 h-8.8 zM1117.1 178.1 h8.8 v11.2 h-8.8 zM1118.6 179.2 h8.8 v11.2 h-8.8 zM1120.1 180.3 h8.8 v11.2 h-8.8 zM1121.6 181.4 h8.8 v11.2 h-8.8 zM1123.1 181.4 h8.8 v11.2 h-8.8 zM1124.6 182.5 h8.8 v11.2 h-8.8 zM1126.1 182.5 h8.8 v11.2 h-8.8 zM1127.6 183.6 h8.8 v11.2 h-8.8 zM1129.1 183.6 h8.8 v11.2 h-8.8 zM1130.6 184.7 h8.8 v11.2 h-8.8 zM1132.1 184.7 h8.8 v11.2 h-8.8 zM1133.6 185.8 h8.8 v11.2 h-8.8 zM1135.1 185.8 h8.8 v11.2 h-8.8 zM1136.6 186.9 h8.8 v11.2 h-8.8 zM1138.1 186.9 h8.8 v11.2 h-8.8 zM1139.6 188.0 h8.8 v11.2 h-8.8 zM1141.1 188.0 h8.8 v11.2 h-8.8 zM1142.6 189.1 h8.8 v11.2 h-8.8 zM1144.1 190.2 h8.8 v11.2 h-8.8 zM1145.6 190.2 h8.8 v11.2 h-8.8 zM1147.1 191.3 h8.8 v11.2 h-8.8 zM1148.6 191.3 h8.8 v11.2 h-8.8 zM1150.1 192.4 h8.8 v11.2 h-8.8 zM1151.6 192.4 h8.8 v11.2 h-8.8 zM1153.1 193.5 h8.8 v11.2 h-8.8 zM1154.6 194.6 h8.8 v11.2 h-8.8 zM1156.1 194.6 h8.8 v11.2 h-8.8 zM1157.6 195.7 h8.8 v11.2 h-8.8 zM1159.1 195.7 h8.8 v11.2 h-8.8 zM1160.6 196.8 h8.8 v11.2 h-8.8 zM1162.1 196.8 h8.8 v11.2 h-8.8 zM1163.6 197.9 h8.8 v11.2 h-8.8 zM1165.1 197.9 h8.8 v11.2 h-8.8 zM1166.6 199.0 h8.8 v11.2 h-8.8 zM1168.1 199.0 h8.8 v11.2 h-8.8 zM1169.6 199.0 h8.8 v11.2 h-8.8 zM1171.1 200.1 h8.8 v11.2 h-8.8 zM1172.6 200.1 h8.8 v11.2 h-8.8 zM1174.1 201.2 h8.8 v11.2 h-8.8 zM1175.6 201.2 h8.8 v11.2 h-8.8 zM1177.1 202.3 h8.8 v11.2 h-8.8 zM1178.6 202.3 h8.8 v11.2 h-8.8 zM1180.1 203.4 h8.8 v11.2 h-8.8 zM1181.6 203.4 h8.8 v11.2 h-8.8 zM1183.1 203.4 h8.8 v11.2 h-8.8 zM1184.6 204.5 h8.8 v11.2 h-8.8 zM1186.1 204.5 h8.8 v11.2 h-8.8 zM1187.6 205.6 h8.8 v11.2 h-8.8 zM1189.1 205.6 h8.8 v11.2 h-8.8 zM1190.6 205.6 h8.8 v11.2 h-8.8 zM1192.1 206.7 h8.8 v11.2 h-8.8 zM1193.6 206.7 h8.8 v11.2 h-8.8 zM1195.1 206.7 h8.8 v11.2 h-8.8 zM1196.6 207.8 h8.8 v11.2 h-8.8 zM1198.1 207.8 h8.8 v11.2 h-8.8 zM1199.6 207.8 h8.8 v11.2 h-8.8 zM1201.1 208.9 h8.8 v11.2 h-8.8 zM1202.6 208.9 h8.8 v11.2 h-8.8 zM1204.1 208.9 h8.8 v11.2 h-8.8 zM1205.6 210.0 h8.8 v11.2 h-8.8 zM1207.1 210.0 h8.8 v11.2 h-8.8 zM1208.6 210.0 h8.8 v11.2 h-8.8 zM1210.1 211.1 h8.8 v11.2 h-8.8 zM1211.6 211.1 h8.8 v11.2 h-8.8 zM1213.1 211.1 h8.8 v11.2 h-8.8 zM1214.6 212.2 h8.8 v11.2 h-8.8 zM1216.1 212.2 h8.8 v11.2 h-8.8 zM1217.6 213.3 h8.8 v11.2 h-8.8 zM1219.1 213.3 h8.8 v11.2 h-8.8 zM1220.6 214.4 h8.8 v11.2 h-8.8 zM1222.1 215.5 h8.8 v11.2 h-8.8 zM1223.6 216.6 h8.8 v11.2 h-8.8 zM1225.1 216.6 h8.8 v11.2 h-8.8 zM1226.6 217.7 h8.8 v11.2 h-8.8 zM1228.1 218.8 h8.8 v11.2 h-8.8 zM1229.6 218.8 h8.8 v11.2 h-8.8 zM1231.1 219.9 h8.8 v11.2 h-8.8 zM1232.6 221.0 h8.8 v11.2 h-8.8 zM1234.1 221.0 h8.8 v11.2 h-8.8 zM1235.6 222.1 h8.8 v11.2 h-8.8 zM1237.1 223.2 h8.8 v11.2 h-8.8 zM1238.6 223.2 h8.8 v11.2 h-8.8 zM1240.1 223.2 h8.8 v11.2 h-8.8 zM1241.6 224.3 h8.8 v11.2 h-8.8 zM1243.1 224.3 h8.8 v11.2 h-8.8 zM1244.6 225.4 h8.8 v11.2 h-8.8 zM1246.1 225.4 h8.8 v11.2 h-8.8 zM1247.6 226.5 h8.8 v11.2 h-8.8 zM1249.1 226.5 h8.8 v11.2 h-8.8 zM1250.6 226.5 h8.8 v11.2 h-8.8 zM1252.1 226.5 h8.8 v11.2 h-8.8 zM1253.6 227.6 h8.8 v11.2 h-8.8 zM1255.1 227.6 h8.8 v11.2 h-8.8 zM1256.6 227.6 h8.8 v11.2 h-8.8 zM1258.1 227.6 h8.8 v11.2 h-8.8 zM1259.6 227.6 h8.8 v11.2 h-8.8 zM1261.1 227.6 h8.8 v11.2 h-8.8 zM1262.6 228.7 h8.8 v11.2 h-8.8 zM1264.1 228.7 h8.8 v11.2 h-8.8 zM1265.6 228.7 h8.8 v11.2 h-8.8 zM1267.1 229.8 h8.8 v11.2 h-8.8 zM1268.6 229.8 h8.8 v11.2 h-8.8 zM1270.1 230.9 h8.8 v11.2 h-8.8 zM1271.6 230.9 h8.8 v11.2 h-8.8 zM1273.1 232.0 h8.8 v11.2 h-8.8 zM1274.6 233.1 h8.8 v11.2 h-8.8 zM1276.1 233.1 h8.8 v11.2 h-8.8 zM1277.6 234.2 h8.8 v11.2 h-8.8 zM1279.1 234.2 h8.8 v11.2 h-8.8 zM1280.6 235.3 h8.8 v11.2 h-8.8 zM1282.1 235.3 h8.8 v11.2 h-8.8 zM1283.6 236.4 h8.8 v11.2 h-8.8 zM1285.1 236.4 h8.8 v11.2 h-8.8 zM1286.6 236.4 h8.8 v11.2 h-8.8 zM1288.1 236.4 h8.8 v11.2 h-8.8 zM1289.6 236.4 h8.8 v11.2 h-8.8 zM1291.1 236.4 h8.8 v11.2 h-8.8 zM1292.6 236.4 h8.8 v11.2 h-8.8 zM1294.1 236.4 h8.8 v11.2 h-8.8 zM1295.6 236.4 h8.8 v11.2 h-8.8 zM1297.1 236.4 h8.8 v11.2 h-8.8 zM1298.6 237.5 h8.8 v11.2 h-8.8 zM1300.1 237.5 h8.8 v11.2 h-8.8 zM1301.6 237.5 h8.8 v11.2 h-8.8 zM1303.1 237.5 h8.8 v11.2 h-8.8 zM1304.6 237.5 h8.8 v11.2 h-8.8 zM1306.1 237.5 h8.8 v11.2 h-8.8 zM1307.6 237.5 h8.8 v11.2 h-8.8 zM1309.1 238.6 h8.8 v11.2 h-8.8 zM1310.6 239.7 h8.8 v11.2 h-8.8 zM1312.1 240.8 h8.8 v11.2 h-8.8 zM1313.6 240.8 h8.8 v11.2 h-8.8 zM1315.1 240.8 h8.8 v11.2 h-8.8 zM1316.6 241.9 h8.8 v11.2 h-8.8 zM1318.1 241.9 h8.8 v11.2 h-8.8 zM1319.6 241.9 h8.8 v11.2 h-8.8 zM1321.1 241.9 h8.8 v11.2 h-8.8 zM1322.6 241.9 h8.8 v11.2 h-8.8 zM1324.1 243.0 h8.8 v11.2 h-8.8 zM1325.6 243.0 h8.8 v11.2 h-8.8 zM1327.1 244.1 h8.8 v11.2 h-8.8 zM1328.6 245.2 h8.8 v11.2 h-8.8 zM1330.1 245.2 h8.8 v11.2 h-8.8 zM1331.6 246.3 h8.8 v11.2 h-8.8 zM1333.1 247.4 h8.8 v11.2 h-8.8 zM1334.6 247.4 h8.8 v11.2 h-8.8 zM1336.1 247.4 h8.8 v11.2 h-8.8 zM1337.6 247.4 h8.8 v11.2 h-8.8 zM1339.1 247.4 h8.8 v11.2 h-8.8 zM1340.6 247.4 h8.8 v11.2 h-8.8 zM1342.1 247.4 h8.8 v11.2 h-8.8 zM1343.6 247.4 h8.8 v11.2 h-8.8 zM1345.1 247.4 h8.8 v11.2 h-8.8 zM1346.6 247.4 h8.8 v11.2 h-8.8 zM1348.1 247.4 h8.8 v11.2 h-8.8 zM1349.6 247.4 h8.8 v11.2 h-8.8 zM1351.1 247.4 h8.8 v11.2 h-8.8 zM1352.6 247.4 h8.8 v11.2 h-8.8 zM1354.1 247.4 h8.8 v11.2 h-8.8 zM1355.6 248.5 h8.8 v11.2 h-8.8 zM1357.1 249.6 h8.8 v11.2 h-8.8 zM1358.6 249.6 h8.8 v11.2 h-8.8 zM1360.1 250.7 h8.8 v11.2 h-8.8 zM1361.6 251.8 h8.8 v11.2 h-8.8 zM1363.1 251.8 h8.8 v11.2 h-8.8 zM1364.6 251.8 h8.8 v11.2 h-8.8 zM1366.1 251.8 h8.8 v11.2 h-8.8 zM1367.6 251.8 h8.8 v11.2 h-8.8 zM1369.1 251.8 h8.8 v11.2 h-8.8 zM1370.6 252.9 h8.8 v11.2 h-8.8 zM1372.1 252.9 h8.8 v11.2 h-8.8 zM1373.6 252.9 h8.8 v11.2 h-8.8 zM1375.1 252.9 h8.8 v11.2 h-8.8 zM1376.6 252.9 h8.8 v11.2 h-8.8 zM1378.1 252.9 h8.8 v11.2 h-8.8 zM1379.6 252.9 h8.8 v11.2 h-8.8 zM1381.1 254.0 h8.8 v11.2 h-8.8 zM1382.6 255.1 h8.8 v11.2 h-8.8 zM1384.1 255.1 h8.8 v11.2 h-8.8 zM1385.6 255.1 h8.8 v11.2 h-8.8 zM1387.1 255.1 h8.8 v11.2 h-8.8 zM1388.6 255.1 h8.8 v11.2 h-8.8 zM1390.1 255.1 h8.8 v11.2 h-8.8 zM1391.6 255.1 h8.8 v11.2 h-8.8 zM1393.1 255.1 h8.8 v11.2 h-8.8 zM1394.6 255.1 h8.8 v11.2 h-8.8 zM1396.1 255.1 h8.8 v11.2 h-8.8 zM1397.6 255.1 h8.8 v11.2 h-8.8 zM1399.1 255.1 h8.8 v11.2 h-8.8 zM1400.6 255.1 h8.8 v11.2 h-8.8 zM1402.1 256.2 h8.8 v11.2 h-8.8 zM1403.6 256.2 h8.8 v11.2 h-8.8 zM1405.1 256.2 h8.8 v11.2 h-8.8 zM1406.6 256.2 h8.8 v11.2 h-8.8 zM1408.1 259.5 h8.8 v11.2 h-8.8 zM1409.6 260.6 h8.8 v11.2 h-8.8 zM1411.1 260.6 h8.8 v11.2 h-8.8 zM1412.6 260.6 h8.8 v11.2 h-8.8 zM1414.1 260.6 h8.8 v11.2 h-8.8 zM1415.6 260.6 h8.8 v11.2 h-8.8 zM1417.1 260.6 h8.8 v11.2 h-8.8 zM1418.6 260.6 h8.8 v11.2 h-8.8 zM1420.1 260.6 h8.8 v11.2 h-8.8 zM1421.6 260.6 h8.8 v11.2 h-8.8 zM1423.1 260.6 h8.8 v11.2 h-8.8 zM1424.6 260.6 h8.8 v11.2 h-8.8 zM1426.1 260.6 h8.8 v11.2 h-8.8 zM1427.6 260.6 h8.8 v11.2 h-8.8 zM1429.1 260.6 h8.8 v11.2 h-8.8 zM1430.6 260.6 h8.8 v11.2 h-8.8 zM1432.1 260.6 h8.8 v11.2 h-8.8 zM1433.6 260.6 h8.8 v11.2 h-8.8 zM1435.1 260.6 h8.8 v11.2 h-8.8 zM1436.6 260.6 h8.8 v11.2 h-8.8 zM1438.1 260.6 h8.8 v11.2 h-8.8 zM1439.6 260.6 h8.8 v11.2 h-8.8 zM1441.1 260.6 h8.8 v11.2 h-8.8 zM1442.6 260.6 h8.8 v11.2 h-8.8 zM1444.1 260.6 h8.8 v11.2 h-8.8 zM1445.6 260.6 h8.8 v11.2 h-8.8 zM1447.1 260.6 h8.8 v11.2 h-8.8 zM1448.6 260.6 h8.8 v11.2 h-8.8 zM1450.1 260.6 h8.8 v11.2 h-8.8 zM1451.6 260.6 h8.8 v11.2 h-8.8 zM1453.1 260.6 h8.8 v11.2 h-8.8 zM1454.6 260.6 h8.8 v11.2 h-8.8 zM1456.1 260.6 h8.8 v11.2 h-8.8 zM1474.2 261.0 h7.0 v11.2 h-7.0 zM1480.2 288.6 h7.0 v11.2 h-7.0 zM1493.6 288.6 h7.0 v11.2 h-7.0 zM1507.5 288.6 h7.0 v11.2 h-7.0 zM1509.0 326.3 h7.0 v11.2 h-7.0 zM1533.9 326.3 h7.0 v11.2 h-7.0 zM1542.9 326.3 h7.0 v11.2 h-7.0 zM1580.4 326.3 h7.0 v11.2 h-7.0 zM1619.4 326.3 h7.0 v11.2 h-7.0 zM1640.9 326.3 h7.0 v11.2 h-7.0 z" fill="#141210"/>
<path d="M1425.0 254.4 V279.2" fill="none" stroke="#ea2d3f" stroke-width="4.1"/>
<path d="M985.0 39.6 H986.5 V40.7 H991.0 V41.8 H992.5 V42.9 H994.5 V44.0 H996.0 V45.1 H998.0 V46.2 H999.5 V47.3 H1001.0 V48.4 H1003.0 V49.5 H1004.5 V50.6 H1006.0 V51.7 H1007.0 V52.8 H1008.0 V53.9 H1008.5 V55.0 H1009.5 V56.1 H1010.5 V57.2 H1011.0 V58.3 H1012.0 V59.4 H1013.0 V60.5 H1013.5 V61.6 H1014.5 V62.7 H1015.5 V63.8 H1016.5 V64.9 H1017.5 V66.0 H1018.5 V67.1 H1019.5 V68.2 H1020.5 V69.3 H1021.5 V70.4 H1022.5 V71.5 H1023.5 V72.6 H1024.5 V73.7 H1025.5 V74.8 H1026.5 V75.9 H1027.5 V77.0 H1028.5 V78.1 H1029.5 V79.2 H1030.5 V80.3 H1031.5 V81.4 H1032.5 V82.5 H1033.5 V83.6 H1034.0 V84.7 H1035.0 V85.8 H1036.0 V86.9 H1037.0 V88.0 H1038.0 V89.1 H1039.0 V90.2 H1039.5 V91.3 H1040.5 V92.4 H1041.5 V93.5 H1043.0 V94.6 H1044.5 V95.7 H1046.0 V96.8 H1047.5 V97.9 H1049.0 V99.0 H1050.5 V100.1 H1052.0 V101.2 H1053.5 V102.3 H1055.0 V103.4 H1056.5 V104.5 H1058.0 V105.6 H1059.5 V106.7 H1061.0 V107.8 H1062.0 V108.9 H1063.5 V110.0 H1065.0 V111.1 H1066.0 V112.2 H1067.5 V113.3 H1068.5 V114.4 H1070.0 V115.5 H1071.5 V116.6 H1072.5 V117.7 H1074.0 V118.8 H1075.5 V119.9 H1077.5 V121.0 H1079.0 V122.1 H1080.5 V123.2 H1082.5 V124.3 H1084.0 V125.4 H1086.0 V126.5 H1087.5 V127.6 H1088.5 V128.7 H1090.0 V129.8 H1091.5 V130.9 H1093.0 V132.0 H1094.0 V133.1 H1095.5 V134.2 H1097.0 V135.3 H1098.5 V136.4 H1100.0 V137.5 H1102.0 V138.6 H1104.5 V139.7 H1106.5 V140.8 H1108.5 V141.9 H1110.5 V143.0 H1112.5 V144.1 H1114.5 V145.2 H1116.0 V146.3 H1118.0 V147.4 H1120.0 V148.5 H1122.0 V149.6 H1124.0 V150.7 H1127.5 V151.8 H1131.0 V152.9 H1135.0 V154.0 H1138.5 V155.1 H1142.0 V156.2 H1146.0 V157.3 H1150.5 V158.4 H1154.5 V159.5 H1158.5 V160.6 H1162.0 V161.7 H1163.5 V162.8 H1165.5 V163.9 H1167.0 V165.0 H1169.0 V166.1 H1170.5 V167.2 H1173.5 V168.3 H1177.5 V169.4 H1181.0 V170.5 H1185.0 V171.6 H1190.0 V172.7 H1195.0 V173.8 H1200.0 V174.9 H1203.0 V176.0 H1206.0 V177.1 H1208.5 V178.2 H1211.0 V179.3 H1213.5 V180.4 H1216.0 V181.5 H1219.5 V182.6 H1236.5 V183.7 H1239.5 V184.8 H1242.5 V185.9 H1245.5 V187.0 H1248.5 V188.1 H1254.5 V189.2 H1261.0 V190.3 H1267.5 V191.4 H1273.5 V192.5 H1277.0 V193.6 H1278.0 V194.7 H1279.5 V195.8 H1281.0 V196.9 H1282.0 V198.0 H1299.0 V199.1 H1300.5 V200.2 H1302.5 V201.3 H1304.0 V202.4 H1305.5 V203.5 H1307.0 V204.6 H1308.5 V205.7 H1314.5 V206.8 H1319.0 V207.9 H1319.5 V209.0 H1320.5 V210.1 H1321.5 V211.2 H1322.0 V212.3 H1323.0 V213.4 H1323.5 V214.5 H1324.5 V215.6 H1325.0 V216.7 H1326.0 V217.8 H1326.5 V218.9 H1327.5 V220.0 H1328.0 V221.1 H1329.0 V222.2 H1347.0 V223.3 H1353.0 V224.4 H1354.0 V225.5 H1355.0 V226.6 H1355.5 V227.7 H1356.5 V228.8 H1357.5 V229.9 H1358.0 V231.0 H1359.0 V232.1 H1360.0 V233.2 H1360.5 V234.3 H1361.5 V235.4 H1380.0 V239.8 H1380.5 V244.2 H1410.0 V249.7 H1410.5 V254.1 H1425.0 V278.2 H1525.5" fill="none" stroke="#ea2d3f" stroke-width="2.5"/>
<path d="M980.6 29.6 h8.8 v11.2 h-8.8 zM982.1 30.7 h8.8 v11.2 h-8.8 zM983.6 30.7 h8.8 v11.2 h-8.8 zM985.1 30.7 h8.8 v11.2 h-8.8 zM986.6 31.8 h8.8 v11.2 h-8.8 zM988.1 32.9 h8.8 v11.2 h-8.8 zM989.6 32.9 h8.8 v11.2 h-8.8 zM991.1 34.0 h8.8 v11.2 h-8.8 zM992.6 35.1 h8.8 v11.2 h-8.8 zM994.1 36.2 h8.8 v11.2 h-8.8 zM995.6 37.3 h8.8 v11.2 h-8.8 zM997.1 38.4 h8.8 v11.2 h-8.8 zM998.6 39.5 h8.8 v11.2 h-8.8 zM1000.1 40.6 h8.8 v11.2 h-8.8 zM1001.6 41.7 h8.8 v11.2 h-8.8 zM1003.1 42.8 h8.8 v11.2 h-8.8 zM1004.6 45.0 h8.8 v11.2 h-8.8 zM1006.1 47.2 h8.8 v11.2 h-8.8 zM1007.6 49.4 h8.8 v11.2 h-8.8 zM1009.1 51.6 h8.8 v11.2 h-8.8 zM1010.6 52.7 h8.8 v11.2 h-8.8 zM1012.1 54.9 h8.8 v11.2 h-8.8 zM1013.6 56.0 h8.8 v11.2 h-8.8 zM1015.1 58.2 h8.8 v11.2 h-8.8 zM1016.6 59.3 h8.8 v11.2 h-8.8 zM1018.1 61.5 h8.8 v11.2 h-8.8 zM1019.6 62.6 h8.8 v11.2 h-8.8 zM1021.1 64.8 h8.8 v11.2 h-8.8 zM1022.6 65.9 h8.8 v11.2 h-8.8 zM1024.1 68.1 h8.8 v11.2 h-8.8 zM1025.6 69.2 h8.8 v11.2 h-8.8 zM1027.1 71.4 h8.8 v11.2 h-8.8 zM1028.6 72.5 h8.8 v11.2 h-8.8 zM1030.1 74.7 h8.8 v11.2 h-8.8 zM1031.6 76.9 h8.8 v11.2 h-8.8 zM1033.1 78.0 h8.8 v11.2 h-8.8 zM1034.6 80.2 h8.8 v11.2 h-8.8 zM1036.1 82.4 h8.8 v11.2 h-8.8 zM1037.6 83.5 h8.8 v11.2 h-8.8 zM1039.1 84.6 h8.8 v11.2 h-8.8 zM1040.6 85.7 h8.8 v11.2 h-8.8 zM1042.1 86.8 h8.8 v11.2 h-8.8 zM1043.6 87.9 h8.8 v11.2 h-8.8 zM1045.1 89.0 h8.8 v11.2 h-8.8 zM1046.6 90.1 h8.8 v11.2 h-8.8 zM1048.1 91.2 h8.8 v11.2 h-8.8 zM1049.6 92.3 h8.8 v11.2 h-8.8 zM1051.1 93.4 h8.8 v11.2 h-8.8 zM1052.6 94.5 h8.8 v11.2 h-8.8 zM1054.1 95.6 h8.8 v11.2 h-8.8 zM1055.6 96.7 h8.8 v11.2 h-8.8 zM1057.1 97.8 h8.8 v11.2 h-8.8 zM1058.6 98.9 h8.8 v11.2 h-8.8 zM1060.1 100.0 h8.8 v11.2 h-8.8 zM1061.6 102.2 h8.8 v11.2 h-8.8 zM1063.1 103.3 h8.8 v11.2 h-8.8 zM1064.6 104.4 h8.8 v11.2 h-8.8 zM1066.1 105.5 h8.8 v11.2 h-8.8 zM1067.6 106.6 h8.8 v11.2 h-8.8 zM1069.1 107.7 h8.8 v11.2 h-8.8 zM1070.6 108.8 h8.8 v11.2 h-8.8 zM1072.1 109.9 h8.8 v11.2 h-8.8 zM1073.6 111.0 h8.8 v11.2 h-8.8 zM1075.1 112.1 h8.8 v11.2 h-8.8 zM1076.6 113.2 h8.8 v11.2 h-8.8 zM1078.1 114.3 h8.8 v11.2 h-8.8 zM1079.6 115.4 h8.8 v11.2 h-8.8 zM1081.1 115.4 h8.8 v11.2 h-8.8 zM1082.6 116.5 h8.8 v11.2 h-8.8 zM1084.1 118.7 h8.8 v11.2 h-8.8 zM1085.6 119.8 h8.8 v11.2 h-8.8 zM1087.1 120.9 h8.8 v11.2 h-8.8 zM1088.6 122.0 h8.8 v11.2 h-8.8 zM1090.1 123.1 h8.8 v11.2 h-8.8 zM1091.6 124.2 h8.8 v11.2 h-8.8 zM1093.1 125.3 h8.8 v11.2 h-8.8 zM1094.6 126.4 h8.8 v11.2 h-8.8 zM1096.1 127.5 h8.8 v11.2 h-8.8 zM1097.6 128.6 h8.8 v11.2 h-8.8 zM1099.1 128.6 h8.8 v11.2 h-8.8 zM1100.6 129.7 h8.8 v11.2 h-8.8 zM1102.1 130.8 h8.8 v11.2 h-8.8 zM1103.6 130.8 h8.8 v11.2 h-8.8 zM1105.1 131.9 h8.8 v11.2 h-8.8 zM1106.6 133.0 h8.8 v11.2 h-8.8 zM1108.1 134.1 h8.8 v11.2 h-8.8 zM1109.6 134.1 h8.8 v11.2 h-8.8 zM1111.1 135.2 h8.8 v11.2 h-8.8 zM1112.6 136.3 h8.8 v11.2 h-8.8 zM1114.1 137.4 h8.8 v11.2 h-8.8 zM1115.6 138.5 h8.8 v11.2 h-8.8 zM1117.1 138.5 h8.8 v11.2 h-8.8 zM1118.6 139.6 h8.8 v11.2 h-8.8 zM1120.1 140.7 h8.8 v11.2 h-8.8 zM1121.6 140.7 h8.8 v11.2 h-8.8 zM1123.1 141.8 h8.8 v11.2 h-8.8 zM1124.6 141.8 h8.8 v11.2 h-8.8 zM1126.1 141.8 h8.8 v11.2 h-8.8 zM1127.6 142.9 h8.8 v11.2 h-8.8 zM1129.1 142.9 h8.8 v11.2 h-8.8 zM1130.6 144.0 h8.8 v11.2 h-8.8 zM1132.1 144.0 h8.8 v11.2 h-8.8 zM1133.6 144.0 h8.8 v11.2 h-8.8 zM1135.1 145.1 h8.8 v11.2 h-8.8 zM1136.6 145.1 h8.8 v11.2 h-8.8 zM1138.1 146.2 h8.8 v11.2 h-8.8 zM1139.6 146.2 h8.8 v11.2 h-8.8 zM1141.1 146.2 h8.8 v11.2 h-8.8 zM1142.6 147.3 h8.8 v11.2 h-8.8 zM1144.1 147.3 h8.8 v11.2 h-8.8 zM1145.6 147.3 h8.8 v11.2 h-8.8 zM1147.1 148.4 h8.8 v11.2 h-8.8 zM1148.6 148.4 h8.8 v11.2 h-8.8 zM1150.1 149.5 h8.8 v11.2 h-8.8 zM1151.6 149.5 h8.8 v11.2 h-8.8 zM1153.1 149.5 h8.8 v11.2 h-8.8 zM1154.6 150.6 h8.8 v11.2 h-8.8 zM1156.1 150.6 h8.8 v11.2 h-8.8 zM1157.6 151.7 h8.8 v11.2 h-8.8 zM1159.1 152.8 h8.8 v11.2 h-8.8 zM1160.6 152.8 h8.8 v11.2 h-8.8 zM1162.1 153.9 h8.8 v11.2 h-8.8 zM1163.6 155.0 h8.8 v11.2 h-8.8 zM1165.1 156.1 h8.8 v11.2 h-8.8 zM1166.6 157.2 h8.8 v11.2 h-8.8 zM1168.1 157.2 h8.8 v11.2 h-8.8 zM1169.6 158.3 h8.8 v11.2 h-8.8 zM1171.1 158.3 h8.8 v11.2 h-8.8 zM1172.6 158.3 h8.8 v11.2 h-8.8 zM1174.1 159.4 h8.8 v11.2 h-8.8 zM1175.6 159.4 h8.8 v11.2 h-8.8 zM1177.1 160.5 h8.8 v11.2 h-8.8 zM1178.6 160.5 h8.8 v11.2 h-8.8 zM1180.1 160.5 h8.8 v11.2 h-8.8 zM1181.6 161.6 h8.8 v11.2 h-8.8 zM1183.1 161.6 h8.8 v11.2 h-8.8 zM1184.6 161.6 h8.8 v11.2 h-8.8 zM1186.1 162.7 h8.8 v11.2 h-8.8 zM1187.6 162.7 h8.8 v11.2 h-8.8 zM1189.1 162.7 h8.8 v11.2 h-8.8 zM1190.6 163.8 h8.8 v11.2 h-8.8 zM1192.1 163.8 h8.8 v11.2 h-8.8 zM1193.6 163.8 h8.8 v11.2 h-8.8 zM1195.1 163.8 h8.8 v11.2 h-8.8 zM1196.6 164.9 h8.8 v11.2 h-8.8 zM1198.1 164.9 h8.8 v11.2 h-8.8 zM1199.6 166.0 h8.8 v11.2 h-8.8 zM1201.1 166.0 h8.8 v11.2 h-8.8 zM1202.6 167.1 h8.8 v11.2 h-8.8 zM1204.1 168.2 h8.8 v11.2 h-8.8 zM1205.6 168.2 h8.8 v11.2 h-8.8 zM1207.1 169.3 h8.8 v11.2 h-8.8 zM1208.6 169.3 h8.8 v11.2 h-8.8 zM1210.1 170.4 h8.8 v11.2 h-8.8 zM1211.6 171.5 h8.8 v11.2 h-8.8 zM1213.1 171.5 h8.8 v11.2 h-8.8 zM1214.6 171.5 h8.8 v11.2 h-8.8 zM1216.1 172.6 h8.8 v11.2 h-8.8 zM1217.6 172.6 h8.8 v11.2 h-8.8 zM1219.1 172.6 h8.8 v11.2 h-8.8 zM1220.6 172.6 h8.8 v11.2 h-8.8 zM1222.1 172.6 h8.8 v11.2 h-8.8 zM1223.6 172.6 h8.8 v11.2 h-8.8 zM1225.1 172.6 h8.8 v11.2 h-8.8 zM1226.6 172.6 h8.8 v11.2 h-8.8 zM1228.1 172.6 h8.8 v11.2 h-8.8 zM1229.6 172.6 h8.8 v11.2 h-8.8 zM1231.1 172.6 h8.8 v11.2 h-8.8 zM1232.6 173.7 h8.8 v11.2 h-8.8 zM1234.1 173.7 h8.8 v11.2 h-8.8 zM1235.6 174.8 h8.8 v11.2 h-8.8 zM1237.1 174.8 h8.8 v11.2 h-8.8 zM1238.6 175.9 h8.8 v11.2 h-8.8 zM1240.1 175.9 h8.8 v11.2 h-8.8 zM1241.6 177.0 h8.8 v11.2 h-8.8 zM1243.1 177.0 h8.8 v11.2 h-8.8 zM1244.6 178.1 h8.8 v11.2 h-8.8 zM1246.1 178.1 h8.8 v11.2 h-8.8 zM1247.6 178.1 h8.8 v11.2 h-8.8 zM1249.1 178.1 h8.8 v11.2 h-8.8 zM1250.6 179.2 h8.8 v11.2 h-8.8 zM1252.1 179.2 h8.8 v11.2 h-8.8 zM1253.6 179.2 h8.8 v11.2 h-8.8 zM1255.1 179.2 h8.8 v11.2 h-8.8 zM1256.6 180.3 h8.8 v11.2 h-8.8 zM1258.1 180.3 h8.8 v11.2 h-8.8 zM1259.6 180.3 h8.8 v11.2 h-8.8 zM1261.1 180.3 h8.8 v11.2 h-8.8 zM1262.6 180.3 h8.8 v11.2 h-8.8 zM1264.1 181.4 h8.8 v11.2 h-8.8 zM1265.6 181.4 h8.8 v11.2 h-8.8 zM1267.1 181.4 h8.8 v11.2 h-8.8 zM1268.6 181.4 h8.8 v11.2 h-8.8 zM1270.1 182.5 h8.8 v11.2 h-8.8 zM1271.6 182.5 h8.8 v11.2 h-8.8 zM1273.1 183.6 h8.8 v11.2 h-8.8 zM1274.6 184.7 h8.8 v11.2 h-8.8 zM1276.1 185.8 h8.8 v11.2 h-8.8 zM1277.6 188.0 h8.8 v11.2 h-8.8 zM1279.1 188.0 h8.8 v11.2 h-8.8 zM1280.6 188.0 h8.8 v11.2 h-8.8 zM1282.1 188.0 h8.8 v11.2 h-8.8 zM1283.6 188.0 h8.8 v11.2 h-8.8 zM1285.1 188.0 h8.8 v11.2 h-8.8 zM1286.6 188.0 h8.8 v11.2 h-8.8 zM1288.1 188.0 h8.8 v11.2 h-8.8 zM1289.6 188.0 h8.8 v11.2 h-8.8 zM1291.1 188.0 h8.8 v11.2 h-8.8 zM1292.6 188.0 h8.8 v11.2 h-8.8 zM1294.1 188.0 h8.8 v11.2 h-8.8 zM1295.6 189.1 h8.8 v11.2 h-8.8 zM1297.1 190.2 h8.8 v11.2 h-8.8 zM1298.6 191.3 h8.8 v11.2 h-8.8 zM1300.1 192.4 h8.8 v11.2 h-8.8 zM1301.6 193.5 h8.8 v11.2 h-8.8 zM1303.1 194.6 h8.8 v11.2 h-8.8 zM1304.6 195.7 h8.8 v11.2 h-8.8 zM1306.1 195.7 h8.8 v11.2 h-8.8 zM1307.6 195.7 h8.8 v11.2 h-8.8 zM1309.1 195.7 h8.8 v11.2 h-8.8 zM1310.6 196.8 h8.8 v11.2 h-8.8 zM1312.1 196.8 h8.8 v11.2 h-8.8 zM1313.6 196.8 h8.8 v11.2 h-8.8 zM1315.1 199.0 h8.8 v11.2 h-8.8 zM1316.6 200.1 h8.8 v11.2 h-8.8 zM1318.1 202.3 h8.8 v11.2 h-8.8 zM1319.6 204.5 h8.8 v11.2 h-8.8 zM1321.1 206.7 h8.8 v11.2 h-8.8 zM1322.6 208.9 h8.8 v11.2 h-8.8 zM1324.1 211.1 h8.8 v11.2 h-8.8 zM1325.6 212.2 h8.8 v11.2 h-8.8 zM1327.1 212.2 h8.8 v11.2 h-8.8 zM1328.6 212.2 h8.8 v11.2 h-8.8 zM1330.1 212.2 h8.8 v11.2 h-8.8 zM1331.6 212.2 h8.8 v11.2 h-8.8 zM1333.1 212.2 h8.8 v11.2 h-8.8 zM1334.6 212.2 h8.8 v11.2 h-8.8 zM1336.1 212.2 h8.8 v11.2 h-8.8 zM1337.6 212.2 h8.8 v11.2 h-8.8 zM1339.1 212.2 h8.8 v11.2 h-8.8 zM1340.6 212.2 h8.8 v11.2 h-8.8 zM1342.1 212.2 h8.8 v11.2 h-8.8 zM1343.6 213.3 h8.8 v11.2 h-8.8 zM1345.1 213.3 h8.8 v11.2 h-8.8 zM1346.6 213.3 h8.8 v11.2 h-8.8 zM1348.1 213.3 h8.8 v11.2 h-8.8 zM1349.6 215.5 h8.8 v11.2 h-8.8 zM1351.1 217.7 h8.8 v11.2 h-8.8 zM1352.6 218.8 h8.8 v11.2 h-8.8 zM1354.1 221.0 h8.8 v11.2 h-8.8 zM1355.6 223.2 h8.8 v11.2 h-8.8 zM1357.1 225.4 h8.8 v11.2 h-8.8 zM1358.6 225.4 h8.8 v11.2 h-8.8 zM1360.1 225.4 h8.8 v11.2 h-8.8 zM1361.6 225.4 h8.8 v11.2 h-8.8 zM1363.1 225.4 h8.8 v11.2 h-8.8 zM1364.6 225.4 h8.8 v11.2 h-8.8 zM1366.1 225.4 h8.8 v11.2 h-8.8 zM1367.6 225.4 h8.8 v11.2 h-8.8 zM1369.1 225.4 h8.8 v11.2 h-8.8 zM1370.6 225.4 h8.8 v11.2 h-8.8 zM1372.1 225.4 h8.8 v11.2 h-8.8 zM1373.6 225.4 h8.8 v11.2 h-8.8 zM1375.1 225.4 h8.8 v11.2 h-8.8 zM1376.6 234.2 h8.8 v11.2 h-8.8 zM1378.1 234.2 h8.8 v11.2 h-8.8 zM1379.6 234.2 h8.8 v11.2 h-8.8 zM1381.1 234.2 h8.8 v11.2 h-8.8 zM1382.6 234.2 h8.8 v11.2 h-8.8 zM1384.1 234.2 h8.8 v11.2 h-8.8 zM1385.6 234.2 h8.8 v11.2 h-8.8 zM1387.1 234.2 h8.8 v11.2 h-8.8 zM1388.6 234.2 h8.8 v11.2 h-8.8 zM1390.1 234.2 h8.8 v11.2 h-8.8 zM1391.6 234.2 h8.8 v11.2 h-8.8 zM1393.1 234.2 h8.8 v11.2 h-8.8 zM1394.6 234.2 h8.8 v11.2 h-8.8 zM1396.1 234.2 h8.8 v11.2 h-8.8 zM1397.6 234.2 h8.8 v11.2 h-8.8 zM1399.1 234.2 h8.8 v11.2 h-8.8 zM1400.6 234.2 h8.8 v11.2 h-8.8 zM1402.1 234.2 h8.8 v11.2 h-8.8 zM1403.6 234.2 h8.8 v11.2 h-8.8 zM1405.1 234.2 h8.8 v11.2 h-8.8 zM1406.6 244.1 h8.8 v11.2 h-8.8 zM1408.1 244.1 h8.8 v11.2 h-8.8 zM1409.6 244.1 h8.8 v11.2 h-8.8 zM1411.1 244.1 h8.8 v11.2 h-8.8 zM1412.6 244.1 h8.8 v11.2 h-8.8 zM1414.1 244.1 h8.8 v11.2 h-8.8 zM1415.6 244.1 h8.8 v11.2 h-8.8 zM1417.1 244.1 h8.8 v11.2 h-8.8 zM1418.6 244.1 h8.8 v11.2 h-8.8 zM1420.1 244.1 h8.8 v11.2 h-8.8 zM1421.6 268.2 h8.8 v11.2 h-8.8 zM1423.6 268.2 h8.8 v11.2 h-8.8 zM1425.6 268.2 h8.8 v11.2 h-8.8 zM1427.6 268.2 h8.8 v11.2 h-8.8 zM1429.6 268.2 h8.8 v11.2 h-8.8 zM1431.6 268.2 h8.8 v11.2 h-8.8 zM1433.6 268.2 h8.8 v11.2 h-8.8 zM1435.6 268.2 h8.8 v11.2 h-8.8 zM1437.6 268.2 h8.8 v11.2 h-8.8 zM1439.6 268.2 h8.8 v11.2 h-8.8 zM1441.6 268.2 h8.8 v11.2 h-8.8 zM1443.6 268.2 h8.8 v11.2 h-8.8 zM1445.6 268.2 h8.8 v11.2 h-8.8 zM1447.6 268.2 h8.8 v11.2 h-8.8 zM1449.6 268.2 h8.8 v11.2 h-8.8 zM1451.6 268.2 h8.8 v11.2 h-8.8 zM1453.6 268.2 h8.8 v11.2 h-8.8 zM1455.6 268.2 h8.8 v11.2 h-8.8 zM1457.6 268.2 h8.8 v11.2 h-8.8 zM1459.6 268.2 h8.8 v11.2 h-8.8 zM1461.6 268.2 h8.8 v11.2 h-8.8 zM1517.9 268.2 h7.0 v11.2 h-7.0 z" fill="#ea2d3f"/>
<g stroke="#1a1716" fill="none">
<path d="M984.6 39.3 V523.7" stroke-width="1.1"/>
<path d="M984.1 522.8 H1674.6" stroke-width="1.8"/>
<path d="M984.6 39.9 h9.6 M984.6 136.2 h9.6 M984.6 232.9 h9.6 M984.6 329.7 h9.6 M984.6 426.1 h9.6 M1122.5 522.8 v-10.4 M1260.4 522.8 v-10.4 M1398.2 522.8 v-10.4 M1536.1 522.8 v-10.4 M1674.0 522.8 v-10.4" stroke-width="1.25"/>
</g>
<g font-family="'Liberation Serif',serif" font-size="33.6" fill="#1d1a19">
<text x="969.2" y="52.1" text-anchor="end">100</text>
<text x="969.2" y="148.0" text-anchor="end">80</text>
<text x="969.2" y="243.7" text-anchor="end">60</text>
<text x="969.2" y="339.6" text-anchor="end">40</text>
<text x="969.2" y="435.7" text-anchor="end">20</text>
<text x="960.0" y="557.1" text-anchor="middle">0</text>
<text x="1122.9" y="557.3" text-anchor="middle">5</text>
<text x="1260.8" y="557.3" text-anchor="middle">10</text>
<text x="1398.6" y="557.3" text-anchor="middle">15</text>
<text x="1536.5" y="557.3" text-anchor="middle">20</text>
<text x="1674.4" y="557.3" text-anchor="middle">25</text>
</g>
<text x="1332.8" y="610.3" font-family="'Liberation Serif','Noto Serif CJK SC',serif" font-weight="300" font-size="33.5" fill="#1d1a19" text-anchor="middle">生存时间<tspan dx="-6.1">（</tspan><tspan dx="5.4">年</tspan><tspan dx="6.9">）</tspan></text>
<text transform="translate(898.8 0) rotate(-90)" font-family="'Liberation Serif','Noto Serif CJK SC',serif" font-weight="300" font-size="34.6" fill="#1d1a19"><tspan x="-432.8">无复发生存率</tspan><tspan x="-232.4">（</tspan><tspan x="-193.2" dy="-1.6" font-size="34" font-style="italic">%</tspan><tspan x="-159.4" dy="1.6">）</tspan></text>
<path d="M1121.0 386.0 H1196.0" stroke="#ea2d3f" stroke-width="2" fill="none"/>
<rect x="1155.2" y="376.5" width="7.6" height="9.5" fill="#ea2d3f"/>
<text x="1214.5" y="398.0" font-family="'Liberation Serif','Noto Serif CJK SC',serif" font-weight="300" font-size="33" fill="#1d1a19">高表达</text>
<path d="M1121.0 452.0 H1196.0" stroke="#141210" stroke-width="2" fill="none"/>
<rect x="1155.2" y="442.5" width="7.6" height="9.5" fill="#141210"/>
<text x="1214.5" y="464.0" font-family="'Liberation Serif','Noto Serif CJK SC',serif" font-weight="300" font-size="33" fill="#1d1a19">低表达</text>
<circle cx="1632.5" cy="473.3" r="23.5" fill="none" stroke="#1a1716" stroke-width="2.0"/><text x="1632.8" y="487.9" font-family="'Liberation Sans',sans-serif" font-size="41.5" fill="#1d1a19" text-anchor="middle">b</text>
</svg>
</body>
</html>
